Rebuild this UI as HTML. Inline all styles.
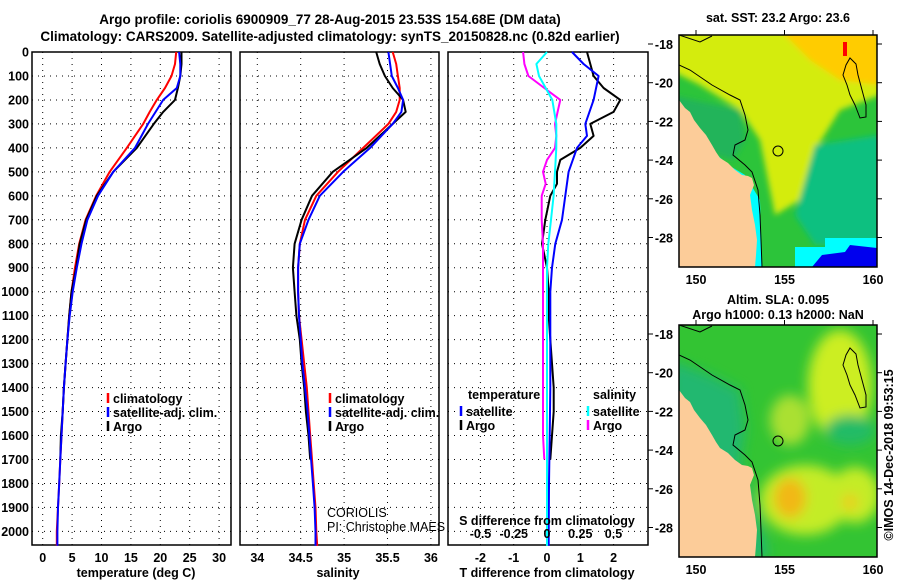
<!DOCTYPE html>
<html><head><meta charset="utf-8"><style>
html,body{margin:0;padding:0;background:#fff;}
svg{display:block;font-family:"Liberation Sans",sans-serif;}
.b{font-weight:bold;font-size:12.5px;fill:#000;}
.t{font-weight:bold;font-size:13.5px;fill:#000;}
</style></head><body>
<svg id="c" width="900" height="580" viewBox="0 0 900 580" xmlns="http://www.w3.org/2000/svg">
<text class="t" x="330" y="24" text-anchor="middle">Argo profile: coriolis 6900909_77 28-Aug-2015 23.53S 154.68E (DM data)</text>
<text class="t" x="330" y="41" text-anchor="middle">Climatology: CARS2009. Satellite-adjusted climatology: synTS_20150828.nc (0.82d earlier)</text>
<g id="plots"></g>
<g id="maps"></g>
</svg>
<script>
// ---- data ----
var climDepth = [0,50,100,150,200,250,300,400,500,600,700,800,900,1000,1100,1200,1300,1400,1500,1600,1700,1800,1900,2000,2060];
var argoDepth = [0,50,100,150,200,250,300,400,500,600,700,800,900,1000,1100,1200,1300,1400,1500,1600,1700];
var tempClim = [22.7,22.5,21.9,20.8,19.4,18.2,17.1,14.3,11.4,9.1,7.3,6.2,5.5,4.9,4.5,4.2,3.9,3.6,3.4,3.2,3.0,2.8,2.6,2.4,2.4];
var tempSat = [23.2,23.4,23.4,22.8,20.5,19.2,17.9,15.7,12.0,9.4,7.6,6.6,5.8,5.1,4.6,4.2,3.9,3.6,3.4,3.2,3.0,2.8,2.6,2.5,2.5];
var tempArgo = [23.6,23.6,23.4,23.0,22.5,20.5,18.9,16.0,12.0,9.2,7.4,6.3,5.7,4.9,4.5,4.2,3.9,3.6,3.4,3.1,3.0];
var salClim = [35.56,35.60,35.62,35.64,35.64,35.60,35.51,35.22,34.93,34.68,34.55,34.49,34.47,34.47,34.48,34.51,34.54,34.57,34.59,34.61,34.63,34.65,34.67,34.68,34.69];
var salSat = [35.51,35.53,35.55,35.62,35.68,35.66,35.56,35.30,34.99,34.72,34.59,34.49,34.47,34.47,34.48,34.50,34.52,34.55,34.58,34.60,34.62,34.64,34.66,34.67,34.67];
var salArgo = [35.37,35.41,35.47,35.56,35.68,35.71,35.56,35.26,34.87,34.63,34.51,34.43,34.41,34.43,34.45,34.49,34.51,34.54,34.56,34.59,34.61];
var diffArgoDepth = [0,50,100,150,200,250,300,350,400,450,500,550,600,700,800,900,1000,1100,1200,1300,1400,1500,1600,1700];
var tDiffArgo = [1.2,1.3,1.4,1.7,2.2,2.0,1.3,1.4,1.0,0.4,0.3,0.3,0.1,-0.05,-0.15,0.0,0.05,0.05,0.1,0.15,0.2,0.2,0.15,0.1];
var sDiffArgo = [-0.18,-0.17,-0.14,-0.02,0.1,0.08,0.06,0.07,0.06,0.0,-0.03,-0.01,-0.04,-0.04,-0.03,-0.03,-0.03,-0.03,-0.03,-0.03,-0.03,-0.03,-0.03,-0.02];
var diffSatDepth = [0,50,100,200,300,350,400,500,600,700,800,900,1000,1200,1400,1600,1800,2000,2060];
var tDiffSat = [0.75,1.1,1.55,1.4,1.15,1.2,0.9,0.65,0.55,0.45,0.25,0.15,0.1,0.1,0.1,0.08,0.06,0.05,0.05];
var sDiffSat = [0.0,-0.08,-0.06,0.04,0.07,0.07,0.07,0.06,0.05,0.03,0.01,0.0,0.0,0.0,0.0,0.0,0.0,0.0,0.0];
var depthTicks = [0,100,200,300,400,500,600,700,800,900,1000,1100,1200,1300,1400,1500,1600,1700,1800,1900,2000];
var tempTicks = [0,5,10,15,20,25,30];
var salTicks = [34,34.5,35,35.5,36];
var tDiffTicks = [-2,-1,0,1,2];
var sDiffTicks = [-0.5,-0.25,0,0.25,0.5];
var latTicks = [-18,-20,-22,-24,-26,-28];
var lonTicks = [150,155,160];

// ---- scales ----
function yD(d){return 52+d*0.2397;}
function xT(t){return 42.7+t*5.88;}
function xS(s){return 257.3+(s-34)*86.8;}
function xTd(t){return 547+t*33.3;}
function xSd(s){return 547+s*133;}
var NS="http://www.w3.org/2000/svg";
function mk(tag,attrs,parent,txt){var e=document.createElementNS(NS,tag);for(var k in attrs)e.setAttribute(k,attrs[k]);if(txt!==undefined)e.textContent=txt;parent.appendChild(e);return e;}
var P=document.getElementById('plots');
var panels=[{x0:32,x1:231,name:'temperature'},{x0:240,x1:439,name:'salinity'},{x0:448,x1:648,name:'difference'}];
var Y0=52,Y1=545;
function stepPath(xs,ds,fx){var s='';for(var i=0;i<xs.length;i++){var x=fx(xs[i]).toFixed(1),y=yD(ds[i]).toFixed(1);s+=(i?'L':'M')+x+' '+y;}return s;}
panels.forEach(function(p,pi){
  var g=mk('g',{},P);
  
  
  depthTicks.forEach(function(d){
    var l=mk('line',{x1:p.x0,x2:p.x1,y1:yD(d),y2:yD(d),stroke:'#000','stroke-width':1,'stroke-dasharray':'1 5'},g);
    
    
  });
  var ticks=pi==0?tempTicks:pi==1?salTicks:tDiffTicks;
  var f=pi==0?xT:pi==1?xS:xTd;
  ticks.forEach(function(t){
    var l=mk('line',{x1:f(t),x2:f(t),y1:Y0,y2:Y1,stroke:'#000','stroke-width':1,'stroke-dasharray':'1 5'},g);
    
    
    var lab=mk('text',{x:f(t),y:562,'text-anchor':'middle','class':'b'},g,String(t));
    
    
  });
  var fr=mk('rect',{x:p.x0,y:Y0,width:p.x1-p.x0,height:Y1-Y0,fill:'none',stroke:'#000','stroke-width':1.5},g);
  
  
});
depthTicks.forEach(function(d){
  var t=mk('text',{x:29,y:yD(d)+4.5,'text-anchor':'end','class':'b'},P,String(d));
  
  
});
function series(xs,ds,f,col,name){
  var e=mk('path',{d:stepPath(xs,ds,f),fill:'none',stroke:col,'stroke-width':2,'stroke-linejoin':'round'},P);
  
  
}
series(tempClim,climDepth,xT,'#f00','temp-climatology-line');
series(tempArgo,argoDepth,xT,'#000','temp-argo-line');
series(tempSat,climDepth,xT,'#00f','temp-satellite-line');
series(salClim,climDepth,xS,'#f00','sal-climatology-line');
series(salArgo,argoDepth,xS,'#000','sal-argo-line');
series(salSat,climDepth,xS,'#00f','sal-satellite-line');
series(tDiffArgo,diffArgoDepth,xTd,'#000','tdiff-argo-line');
series(tDiffSat,diffSatDepth,xTd,'#00f','tdiff-satellite-line');
series(sDiffArgo,diffArgoDepth,xSd,'#f0f','sdiff-argo-line');
series(sDiffSat,diffSatDepth,xSd,'#0ff','sdiff-satellite-line');
sDiffTicks.forEach(function(s){
  var t=mk('text',{x:xSd(s),y:538,'text-anchor':'middle','class':'b'},P,String(s));
  
  
});
function leg(x,y,col,txt,name){
  var l=mk('line',{x1:x,x2:x,y1:y-10,y2:y,stroke:col,'stroke-width':2.5},P);
  
  
  var t=mk('text',{x:x+5,y:y,'class':'b'},P,txt);
  
  
}
leg(108,403,'#f00','climatology','legend-temp-climatology');
leg(108,417,'#00f','satellite-adj. clim.','legend-temp-satellite');
leg(108,431,'#000','Argo','legend-temp-argo');
leg(330,403,'#f00','climatology','legend-sal-climatology');
leg(330,417,'#00f','satellite-adj. clim.','legend-sal-satellite');
leg(330,431,'#000','Argo','legend-sal-argo');
leg(461,416,'#00f','satellite','legend-tdiff-satellite');
leg(461,430,'#000','Argo','legend-tdiff-argo');
leg(588,416,'#0ff','satellite','legend-sdiff-satellite');
leg(588,430,'#f0f','Argo','legend-sdiff-argo');
</script>
<script>
(function(){
var svg=document.getElementById('c');
function mk(tag,attrs,parent,txt){var e=document.createElementNS("http://www.w3.org/2000/svg",tag);for(var k in attrs)e.setAttribute(k,attrs[k]);if(txt!==undefined)e.textContent=txt;parent.appendChild(e);return e;}
function T(x,y,txt,name,extra){var a={x:x,y:y,'class':'b'};for(var k in extra)a[k]=extra[k];var t=mk('text',a,svg,txt);return t;}
T(468,399,'temperature','legend-temp-heading');
T(593,399,'salinity','legend-sal-heading');
T(547,525,'S difference from climatology','sdiff-axis-title',{'text-anchor':'middle'});
T(136,577,'temperature (deg C)','temp-axis-title',{'text-anchor':'middle'});
T(338,577,'salinity','sal-axis-title',{'text-anchor':'middle'});
T(547,577,'T difference from climatology','tdiff-axis-title',{'text-anchor':'middle'});
var c1=mk('text',{x:327,y:517,'font-size':12.5,fill:'#000'},svg,'CORIOLIS');
var c2=mk('text',{x:327,y:531,'font-size':12.5,fill:'#000'},svg,'PI: Christophe MAES');
T(778,22,'sat. SST: 23.2 Argo: 23.6','sst-map-title',{'text-anchor':'middle'});
T(778,304,'Altim. SLA: 0.095','sla-map-title',{'text-anchor':'middle'});
T(778,319,'Argo h1000: 0.13 h2000: NaN','sla-map-subtitle',{'text-anchor':'middle'});
T(893,455,'\u00a9IMOS 14-Dec-2018 09:53:15','timestamp-label',{'text-anchor':'middle',transform:'rotate(-90 893 455)','font-weight':'normal'});
var defs=mk('defs',{},svg);
var fl=mk('filter',{id:'bl',x:'-20%',y:'-20%',width:'140%',height:'140%'},defs);mk('feGaussianBlur',{stdDeviation:6},fl);
var fl2=mk('filter',{id:'bl2',x:'-20%',y:'-20%',width:'140%',height:'140%'},defs);mk('feGaussianBlur',{stdDeviation:3},fl2);
var land="679,100 685,108 690,112 694,120 700,128 706,135 712,145 716,152 720,158 728,163 735,170 742,175 748,176 752,178 754,185 750,195 752,210 755,225 757,240 756,255 755,267 679,267";
var contour="M679,65 L690,70 L712,85 L730,95 L740,100 L745,115 L748,130 L745,140 L735,145 L733,155 L745,165 L752,172 L758,190 L760,215 L761,240 L762,267";
function map(dy,kind){
  var g=mk('g',{transform:'translate(0,'+dy+')'},svg);
  
  
  var cl=mk('clipPath',{id:'cq'+kind},defs);mk('rect',{x:679,y:35,width:198,height:232},cl);
  var inner=mk('g',{'clip-path':'url(#cq'+kind+')'},g);
  if(kind==='sst'){
    mk('rect',{x:679,y:35,width:198,height:232,fill:'#2cc43a'},inner);
    var hg=mk('g',{filter:'url(#bl2)'},inner);
    mk('polygon',{points:'670,30 880,30 880,95 840,110 815,150 800,200 775,215 760,140 740,110 700,85 670,70',fill:'#d4ec10'},hg);
    mk('polygon',{points:'780,30 880,30 880,85 840,80 810,60',fill:'#ffcc00'},hg);
    mk('polygon',{points:'815,145 880,135 880,245 815,245 795,215',fill:'#10c080'},hg);
    mk('polygon',{points:'670,95 740,110 745,140 733,160 700,150',fill:'#22b45a'},hg);
    mk('rect',{x:843,y:42,width:4,height:14,fill:'#f00'},inner);
    mk('polygon',{points:'795,247 825,247 825,238 877,238 877,267 795,267',fill:'#00ffff'},inner);
    mk('polygon',{points:'812,267 822,255 845,252 850,245 877,248 877,267',fill:'#0000ee'},inner);
    mk('polygon',{points:'679,110 700,130 720,160 745,175 760,200 762,267 752,267 740,175 700,140 679,118',fill:'#00ffff'},inner);
  } else {
    mk('rect',{x:679,y:35,width:198,height:232,fill:'#33c433'},inner);
    var bg=mk('g',{filter:'url(#bl)'},inner);
    mk('ellipse',{cx:840,cy:95,rx:32,ry:55,fill:'#ccee22'},bg);
    mk('ellipse',{cx:790,cy:130,rx:20,ry:25,fill:'#aae030'},bg);
    mk('ellipse',{cx:805,cy:210,rx:45,ry:35,fill:'#c4ec26'},bg);
    mk('ellipse',{cx:855,cy:205,rx:25,ry:28,fill:'#c4ec26'},bg);
    mk('ellipse',{cx:790,cy:208,rx:16,ry:20,fill:'#f2b818'},bg);
    mk('ellipse',{cx:850,cy:212,rx:8,ry:8,fill:'#eecc22'},bg);
    mk('ellipse',{cx:850,cy:140,rx:25,ry:15,fill:'#22bb66'},bg);
    mk('polygon',{points:'670,70 710,85 740,100 745,140 740,170 770,267 670,267',fill:'#20b870'},bg);
  }
  var ld=mk('polygon',{points:land,fill:'#fccc99'},inner);
  
  
  mk('path',{d:contour,fill:'none',stroke:'#000','stroke-width':1},inner);
  mk('path',{d:'M850,58 L856,64 L858,75 L862,90 L866,105 L866,117 L860,118 L855,105 L850,95 L847,85 L843,75 L846,65 Z',fill:'none',stroke:'#000','stroke-width':1},inner);
  mk('path',{d:'M679,35 L700,42 L712,36',fill:'none',stroke:'#000','stroke-width':1},inner);
  var pos=mk('circle',{cx:778,cy:151,r:5,fill:'none',stroke:'#000','stroke-width':1},inner);
  
  
  mk('rect',{x:679,y:35,width:198,height:232,fill:'none',stroke:'#000','stroke-width':1.5},g);
  [-18,-20,-22,-24,-26,-28].forEach(function(lat){
    var y=44+(-18-lat)*19.35;
    var t=mk('text',{x:673,y:y+5,'text-anchor':'end','class':'b'},g,String(lat));
    
    mk('line',{x1:877,x2:882,y1:y,y2:y,stroke:'#000'},g);
    mk('line',{x1:648,x2:653,y1:y,y2:y,stroke:'#000'},g);
  });
  [150,155,160].forEach(function(lon){
    var x=696+(lon-150)*17.7;
    var t=mk('text',{x:x,y:284,'text-anchor':'middle','class':'b'},g,String(lon));
    
    mk('line',{x1:x,x2:x,y1:30,y2:35,stroke:'#000'},g);
  });
}
map(0,'sst');
map(290,'sla');
})();
</script>
</body></html>
